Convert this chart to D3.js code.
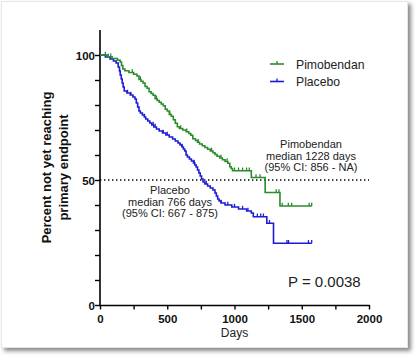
<!DOCTYPE html>
<html><head><meta charset="utf-8">
<script src="https://cdn.jsdelivr.net/npm/d3@7"></script>
<style>
html,body{margin:0;padding:0;background:#fff;}
svg{display:block;font-family:"Liberation Sans",Arial,Helvetica,sans-serif;}
</style></head>
<body><div id="chart"></div>
<script>
// ---- data ----
const placeboDays = [0,40,75,100,120,135,145,150,158,165,172,180,200,225,245,260,270,280,290,300,315,330,340,355,370,385,400,420,440,465,490,515,540,560,580,595,610,620,630,640,650,665,680,695,705,715,725,735,745,755,766,780,800,820,840,855,865,875,885,900,930,980,1030,1090,1125,1140,1240,1290];
const placeboSurv = [100,99.2,98.4,97.6,96.8,95.2,93.6,92,90.4,88.8,87.2,85.6,84.8,84,83.2,82.4,80.8,79.2,77.6,76.8,76,75.2,74.4,73.6,72.8,72,71.2,70.4,69.6,68.8,68,67.2,66.4,65.6,64.8,64,63.2,62.4,61.6,60,59.2,58.4,57.6,56.8,56,55.2,54,52.8,51.6,50.4,49.2,48.4,47.6,46.8,46,44.8,43.6,42.4,41.6,40.8,40,39.2,38.4,37.6,36.8,35.3,32.7,24.7];
const placeboCensor = [60,205,230,330,395,410,470,500,610,700,790,900,950,1000,1060,1100,1170,1195,1215,1260,1390,1402,1550,1574];
const pimoDays = [0,50,90,130,150,160,170,185,215,250,275,290,305,320,335,350,365,380,395,410,425,440,455,470,485,500,515,530,545,560,575,590,615,640,660,675,690,710,725,740,760,780,800,820,840,855,870,890,910,930,950,965,975,985,1125,1228,1338];
const pimoSurv = [100,99.3,98.6,97.9,97.2,95.8,94.4,93.7,93,92.3,91.6,90.2,89.5,88.8,87.4,86.7,85.3,84.6,83.9,82.5,81.8,81.1,80.4,79.7,78.3,77.6,76.2,75.5,74.1,72.7,71.3,70.6,70,69.3,68.6,67.9,66.5,65.8,65.1,64.4,63.7,63,62.3,61.6,60.9,60.2,59.5,58.8,58.1,57.4,56.7,55.3,54.6,53.7,51,45,39.6];
const pimoCensor = [40,80,240,300,420,520,600,645,730,830,900,945,1000,1030,1060,1090,1110,1160,1190,1310,1330,1355,1400,1425,1555,1574];
const lastDay = 1574;
const xTickValues = [0,250,500,750,1000,1250,1500,1750,2000];
const xTickLabels = [0,500,1000,1500,2000];
const yTickValues = [0,10,20,30,40,50,60,70,80,90,100];
const yTickLabels = [0,50,100];
const medianLevel = 50;
const seriesNames = ["Pimobendan","Placebo"];
const seriesColors = ["#2b8c2b","#1c1cd6"];
const pimoNote = ["Pimobendan","median 1228 days","(95% CI: 856 - NA)"];
const placeboNote = ["Placebo","median 766 days","(95% CI: 667 - 875)"];
const pValueText = "P = 0.0038";

// ---- drawing ----
const W = 420, H = 360;
const svg = d3.select("#chart").append("svg").attr("width",W).attr("height",H);
const defs = svg.append("defs");
const f = defs.append("filter").attr("id","sh").attr("x","-5%").attr("y","-5%").attr("width","115%").attr("height","115%");
f.append("feDropShadow").attr("dx",3).attr("dy",3).attr("stdDeviation",2.2).attr("flood-color","#555").attr("flood-opacity",0.7);
svg.append("rect").attr("x",1.5).attr("y",1.5).attr("width",406).attr("height",346)
  .attr("fill","#fff").attr("stroke","#e6e6e6").attr("stroke-width",1).attr("filter","url(#sh)");

const x = d3.scaleLinear().domain([0,2000]).range([100,369]);
const y = d3.scaleLinear().domain([0,110]).range([305,30]);

// axes
const xAxis = d3.axisBottom(x).tickValues(xTickValues).tickSize(4.5).tickSizeOuter(0)
  .tickFormat(d => xTickLabels.includes(d) ? d : "");
const gx = svg.append("g").attr("transform","translate(0,305)").call(xAxis);
gx.select(".domain").attr("stroke","#000").attr("stroke-width",1.6);
gx.selectAll(".tick line").attr("stroke","#000").attr("stroke-width",1.4);
gx.selectAll(".tick text").attr("font-size",11.5).attr("font-weight","bold").attr("fill","#111").attr("dy","0.9em");

const yAxis = d3.axisLeft(y).tickValues(yTickValues).tickSize(5).tickSizeOuter(0)
  .tickFormat(d => yTickLabels.includes(d) ? d : "");
const gy = svg.append("g").attr("transform","translate(100,0)").call(yAxis);
gy.select(".domain").attr("stroke","#000").attr("stroke-width",1.6)
  .attr("d", `M0,${y(110)}V${y(0)}`);
gy.selectAll(".tick line").attr("stroke","#000").attr("stroke-width",1.4);
gy.selectAll(".tick text").attr("font-size",11.5).attr("font-weight","bold").attr("fill","#111").attr("x",-5).attr("dy","0.36em");
svg.selectAll(".tick text").attr("font-family","'Liberation Sans',Arial,sans-serif");

// median line
svg.append("line").attr("x1",x(0)).attr("x2",x(2000)).attr("y1",y(medianLevel)).attr("y2",y(medianLevel))
  .attr("stroke","#000").attr("stroke-width",1.3).attr("stroke-dasharray","1.4,2.6");

// curves
const line = d3.line().x(d=>x(d[0])).y(d=>y(d[1])).curve(d3.curveStepAfter);
function survAt(days, surv, t){ const i = d3.bisectRight(days, t) - 1; return surv[Math.max(0,i)]; }
function drawSeries(days, surv, censor, color){
  const pts = days.map((d,i)=>[d,surv[i]]);
  pts.push([lastDay, surv[surv.length-1]]);
  svg.append("path").datum(pts).attr("d",line).attr("fill","none").attr("stroke",color)
    .attr("stroke-width",1.6).attr("stroke-linejoin","miter");
  svg.append("g").selectAll("line").data(censor).join("line")
    .attr("x1",d=>x(d)).attr("x2",d=>x(d))
    .attr("y1",d=>y(survAt(days,surv,d))).attr("y2",d=>y(survAt(days,surv,d))-3.2)
    .attr("stroke",color).attr("stroke-width",1.3);
}
drawSeries(placeboDays, placeboSurv, placeboCensor, seriesColors[1]);
drawSeries(pimoDays, pimoSurv, pimoCensor, seriesColors[0]);

// legend
const leg = svg.append("g");
seriesNames.forEach((n,i)=>{
  const ly = 64 + i*17.5;
  leg.append("line").attr("x1",270).attr("x2",284).attr("y1",ly).attr("y2",ly).attr("stroke",seriesColors[i]).attr("stroke-width",1.6);
  leg.append("line").attr("x1",277).attr("x2",277).attr("y1",ly).attr("y2",ly-3).attr("stroke",seriesColors[i]).attr("stroke-width",1.3);
  leg.append("text").attr("x",296).attr("y",ly+4.5).attr("font-size",12.2).attr("fill","#222").text(n);
});

// annotations
pimoNote.forEach((t,i)=>{
  svg.append("text").attr("x",311).attr("y",148+i*11.5).attr("text-anchor","middle")
    .attr("font-size",11).attr("fill","#222").text(t);
});
placeboNote.forEach((t,i)=>{
  svg.append("text").attr("x",170).attr("y",194+i*11.5).attr("text-anchor","middle")
    .attr("font-size",11).attr("fill","#222").text(t);
});
svg.append("text").attr("x",288).attr("y",287).attr("font-size",15).attr("fill","#222").text(pValueText);

// axis titles
svg.append("text").attr("x",x(1000)).attr("y",337).attr("text-anchor","middle").attr("font-size",12).attr("fill","#222").text("Days");
const yt = svg.append("text").attr("transform","translate(51,167.5) rotate(-90)").attr("text-anchor","middle")
  .attr("font-size",13).attr("font-weight","bold").attr("fill","#111");
yt.append("tspan").attr("x",0).attr("y",0).text("Percent not yet reaching");
yt.append("tspan").attr("x",0).attr("y",17).text("primary endpoint");
</script></body></html>
